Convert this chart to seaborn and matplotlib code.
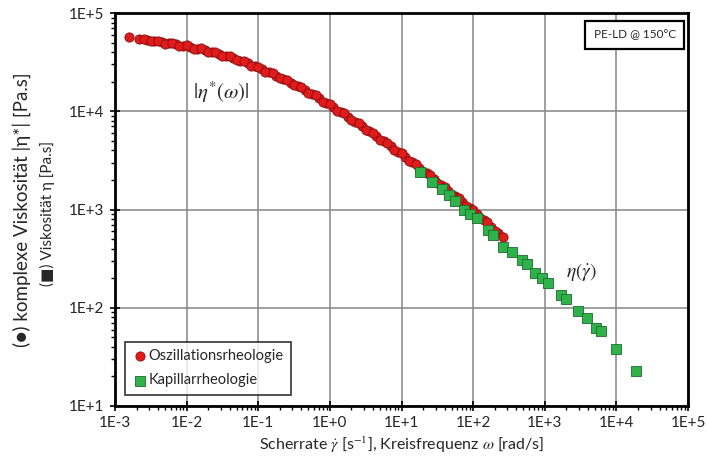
import numpy as np
import pandas as pd
import matplotlib
matplotlib.use('Agg')
import matplotlib.pyplot as plt
from matplotlib.ticker import FixedLocator, FuncFormatter, LogLocator, NullFormatter
import seaborn as sns

# =========================================================
# Daten
# =========================================================
# Oszillationsrheologie: Kreisfrequenz [rad/s], |eta*| [Pa.s]
omega_osz = [0.00158, 0.00219, 0.00282, 0.00355, 0.00447, 0.00562, 0.00708, 0.00891,
             0.0112, 0.0141, 0.0178, 0.0224, 0.0282, 0.0355, 0.0447, 0.0562, 0.0708,
             0.0891, 0.112, 0.141, 0.178, 0.224, 0.282, 0.355, 0.447, 0.562, 0.708,
             0.891, 1.12, 1.41, 1.78, 2.24, 2.82, 3.55, 4.47, 5.62, 7.08, 8.91, 11.2,
             14.1, 17.8, 22.4, 28.2, 35.5, 44.7, 56.2, 70.8, 89.1, 112, 141, 178, 224, 263]
eta_osz = [57100, 55000, 53100, 51900, 50700, 49300, 48000, 46500, 45000, 43400, 41800,
           40100, 38400, 36600, 34700, 32700, 30800, 28800, 26900, 25000, 23100, 21300,
           19600, 17900, 16400, 14900, 13500, 12200, 11000, 9820, 8790, 7850, 7000, 6240,
           5560, 4930, 4380, 3880, 3430, 3020, 2650, 2330, 2040, 1790, 1560, 1360, 1180,
           1030, 893, 774, 671, 582, 525]

# zweite Messreihe (Oszillation), dazwischen liegende Punkte
omega_osz2 = [0.00251, 0.00316, 0.00398, 0.00501, 0.00631, 0.00794, 0.01, 0.0126,
              0.0158, 0.02, 0.0251, 0.0316, 0.0398, 0.0501, 0.0631, 0.0794, 0.1, 0.126,
              0.158, 0.2, 0.251, 0.316, 0.398, 0.501, 0.631, 0.794, 1, 1.26, 1.58, 2,
              2.51, 3.16, 3.98, 5.01, 6.31, 7.94, 10, 12.6, 15.8, 20, 25.1, 31.6, 39.8,
              50.1, 63.1, 79.4, 100, 126, 158, 200]
eta_osz2 = [54900, 51300, 52500, 48900, 49800, 46100, 46800, 43100, 43600, 40000, 40200,
            36600, 36500, 32900, 32500, 29100, 28500, 25300, 24600, 21700, 20900, 18400,
            17500, 15200, 14500, 12500, 11900, 10100, 9500, 8110, 7590, 6460, 6030, 5120,
            4760, 4030, 3740, 3140, 2900, 2430, 2230, 1870, 1710, 1420, 1300, 1080, 980,
            813, 738, 611]

# Kapillarrheologie: Scherrate [1/s], eta [Pa.s]
gamma_kap = [18.2, 26.3, 36.3, 45.7, 56.2, 74.1, 91.2, 112, 162, 191, 263, 347, 479,
             562, 741, 912, 1122, 1660, 1995, 2951, 3890, 5129, 6026, 9772, 19055]
eta_kap = [2427, 1919, 1603, 1406, 1230, 1000, 899, 813, 617, 550, 417, 372, 306,
           279, 228, 200, 178, 135, 122, 92.7, 78.2, 61.7, 58.3, 37.8, 22.9]

df_osz = pd.DataFrame({'x': omega_osz + omega_osz2, 'y': eta_osz + eta_osz2})
df_kap = pd.DataFrame({'x': gamma_kap, 'y': eta_kap})

# =========================================================
# Stil
# =========================================================
sns.set_theme(style='white')
plt.rcParams['font.family'] = ['Lato', 'DejaVu Sans']
plt.rcParams['mathtext.fontset'] = 'stix'

fig = plt.figure(figsize=(7.07, 4.68), dpi=100)
ax = fig.add_axes([0.1627, 0.1325, 0.8105, 0.8397])

sns.scatterplot(data=df_osz, x='x', y='y', ax=ax, marker='o', s=44,
                color='#e01b1b', edgecolor='#8a0f0f', linewidth=0.6,
                label='Oszillationsrheologie', zorder=3)
sns.scatterplot(data=df_kap, x='x', y='y', ax=ax, marker='s', s=44,
                color='#2fb24a', edgecolor='#1d6b2c', linewidth=0.6,
                label='Kapillarrheologie', zorder=4)

ax.set_xscale('log')
ax.set_yscale('log')
ax.set_xlim(1e-3, 1e5)
ax.set_ylim(1e1, 1e5)

# Achsenbeschriftung im Excel-Stil "1E+3"
def excel_fmt(v, pos):
    e = int(round(np.log10(v)))
    return f'1E{e:+d}' if e != 0 else '1E+0'

ax.xaxis.set_major_locator(FixedLocator([10.0**k for k in range(-3, 6)]))
ax.yaxis.set_major_locator(FixedLocator([10.0**k for k in range(1, 6)]))
ax.xaxis.set_major_formatter(FuncFormatter(excel_fmt))
ax.yaxis.set_major_formatter(FuncFormatter(excel_fmt))
ax.xaxis.set_minor_locator(LogLocator(base=10, subs=np.arange(2, 10), numticks=20))
ax.yaxis.set_minor_locator(LogLocator(base=10, subs=np.arange(2, 10), numticks=20))
ax.xaxis.set_minor_formatter(NullFormatter())
ax.yaxis.set_minor_formatter(NullFormatter())

ax.tick_params(which='major', direction='inout', length=7, width=1.2,
               labelsize=11, color='black', pad=4, left=True, bottom=True)
ax.tick_params(which='minor', direction='out', length=3, width=1.0,
               color='black', left=True, bottom=True)

ax.grid(True, which='major', color='#858585', linewidth=1.1)
for sp in ax.spines.values():
    sp.set_color('black')
    sp.set_linewidth(2.0)

ax.set_xlabel(r'Scherrate $\dot{\gamma}$ [s$^{-1}$], Kreisfrequenz $\omega$ [rad/s]',
              fontsize=11.5, labelpad=3)
ax.set_ylabel('')

# zweizeilige y-Beschriftung
fig.text(22 / 707, 1 - 210 / 468, '(●) komplexe Viskosität |η*| [Pa.s]',
         rotation=90, ha='center', va='center', fontsize=13.5)
fig.text(47 / 707, 1 - 213 / 468, '(■) Viskosität η [Pa.s]',
         rotation=90, ha='center', va='center', fontsize=11)

# Kurvenbezeichnungen
ax.text(0.030, 15700, r'$|\eta^{*}(\omega)|$', fontsize=15, ha='center', va='center')
ax.text(3300, 231, r'$\eta(\dot{\gamma})$', fontsize=14, ha='center', va='center')

# Material
ax.text(0.907, 0.944, 'PE-LD @ 150°C', transform=ax.transAxes, fontsize=8.5,
        ha='center', va='center',
        bbox=dict(boxstyle='square,pad=0.7', facecolor='white',
                  edgecolor='black', linewidth=1.6))

leg = ax.legend(loc='lower left', frameon=True, fancybox=False, fontsize=10.5,
                handletextpad=0.1, handlelength=1.0, borderpad=0.5,
                labelspacing=0.7, markerscale=1.0, bbox_to_anchor=(0.005, 0.01))
leg.get_frame().set_edgecolor('black')
leg.get_frame().set_linewidth(1.2)

fig.savefig('out.png', dpi=100)
